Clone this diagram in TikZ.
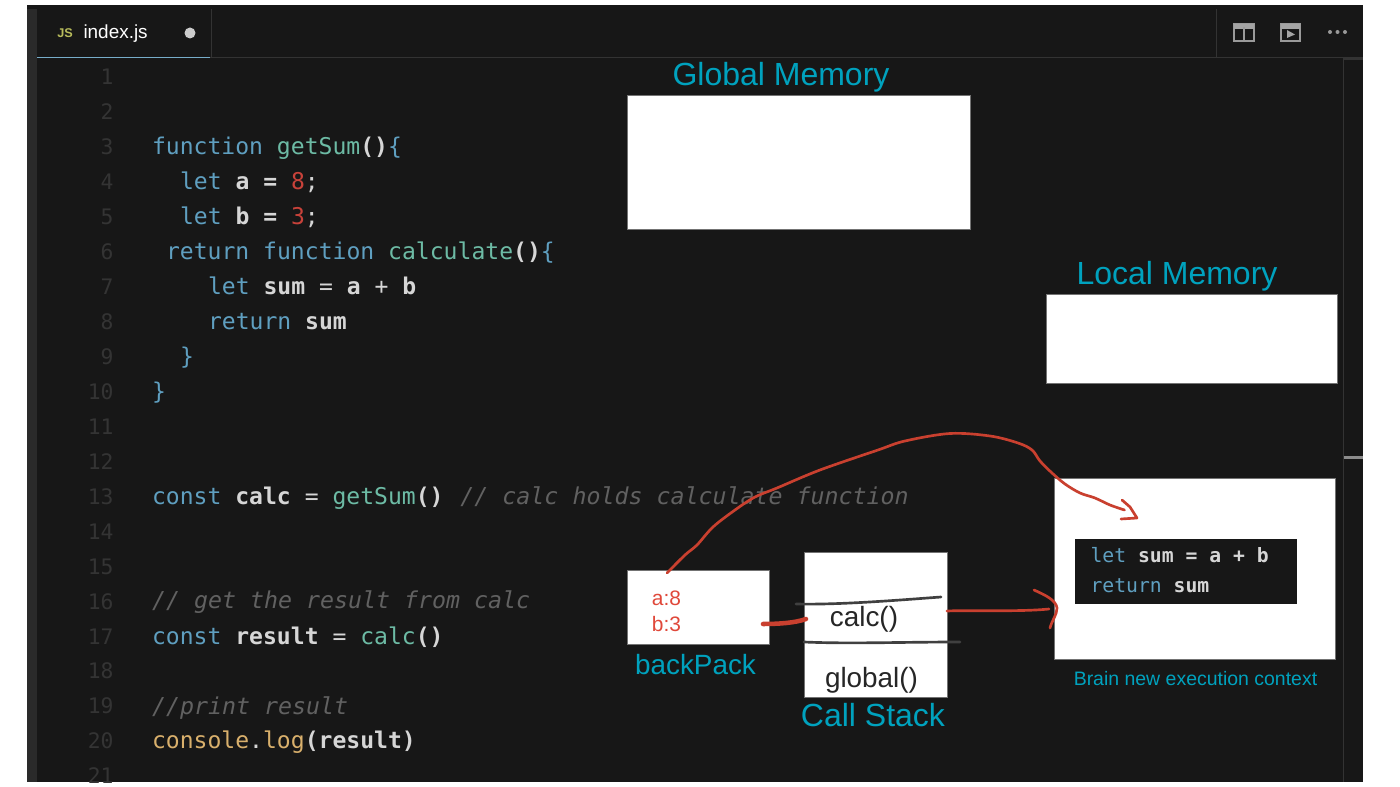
\documentclass[tikz,border=0pt]{standalone}
\usepackage{fontspec}
\setmainfont{Liberation Sans}
\setmonofont{DejaVu Sans Mono}

\definecolor{editorbg}{HTML}{171717}
\definecolor{stripbg}{HTML}{2A2A2A}
\definecolor{rulegray}{HTML}{333333}
\definecolor{numgray}{HTML}{343434}
\definecolor{kwblue}{HTML}{5F9FC0}
\definecolor{fngreen}{HTML}{6DBBA5}
\definecolor{varwhite}{HTML}{D6D6D6}
\definecolor{numred}{HTML}{C8423A}
\definecolor{cmtgray}{HTML}{616161}
\definecolor{logyellow}{HTML}{D9B06C}
\definecolor{titlecyan}{HTML}{00A2BE}
\definecolor{penred}{HTML}{C9402F}
\definecolor{textred}{HTML}{E0483A}
\definecolor{inkblack}{HTML}{262626}
\definecolor{iconcolor}{HTML}{9A9A9A}

\newcommand{\kw}[1]{\textcolor{kwblue}{#1}}
\newcommand{\fn}[1]{\textcolor{fngreen}{#1}}
\newcommand{\vr}[1]{\textcolor{varwhite}{\bfseries #1}}
\newcommand{\pl}[1]{\textcolor{varwhite}{#1}}
\newcommand{\nm}[1]{\textcolor{numred}{#1}}
\newcommand{\cm}[1]{\textcolor{cmtgray}{\fontsize{17.45pt}{20pt}\selectfont\itshape #1}}

\tikzset{every picture/.style={line width=0.75pt}}
\tikzset{
  boxsize/.style 2 args={minimum width=#1*0.75pt,minimum height=#2*0.75pt},
  whitebox/.style={draw=black!55,fill=white,inner sep=0pt,outer sep=0pt},
  codeline/.style={anchor=base west,inner sep=0pt,text=varwhite,font=\ttfamily\fontsize{17.3pt}{20pt}\selectfont},
  smallcode/.style={anchor=base west,inner sep=0pt,text=varwhite,font=\ttfamily\fontsize{14.8pt}{18pt}\selectfont},
  linenum/.style={anchor=base east,inner sep=0pt,text=numgray,font=\ttfamily\fontsize{16pt}{20pt}\selectfont},
  bigtitle/.style={inner sep=0pt,text=titlecyan,font=\fontsize{24pt}{28pt}\selectfont},
  midtitle/.style={inner sep=0pt,text=titlecyan,font=\fontsize{20.9pt}{24pt}\selectfont},
  stacktext/.style={inner sep=0pt,text=inkblack,font=\fontsize{20.9pt}{24pt}\selectfont},
  packtext/.style={inner sep=0pt,text=textred,font=\fontsize{15.7pt}{18pt}\selectfont},
  redpen/.style={draw=penred,line width=2pt,line cap=round,line join=round},
  fatpen/.style={draw=penred,line width=3.4pt,line cap=round},
  blackpen/.style={draw=black!75,line width=2pt,line cap=round},
  iconline/.style={draw=iconcolor,line width=1.5pt}
}

\begin{document}
\begin{tikzpicture}[x=0.75pt,y=0.75pt,yscale=-1,xscale=1]
	\useasboundingbox (0,0) rectangle (1400,787);
	\fill [white] (0,0) rectangle (1400,787);

	\begin{scope}
		\clip (27,5) rectangle (1363,782);
		\fill [editorbg] (27,5) rectangle (1363,782);
		\fill [stripbg] (27,9) rectangle (37,782);

		% tab bar
		\draw [rulegray] (37,57.5) -- (1363,57.5);
		\draw [kwblue!85!white] (37,57.5) -- (210,57.5);
		\draw [rulegray] (211,9) -- (211,57);
		\draw [rulegray] (1216,9) -- (1216,57);
		\draw [rulegray] (1343,59) -- (1343,782);
		\fill [rulegray] (1343,58) rectangle (1363,60);
		\fill [black!45] (1344,456.5) rectangle (1363,459.5);

		\node (jsIcon) [inner sep=0pt,text=logyellow!85!green,font=\bfseries\fontsize{9.5pt}{10pt}\selectfont] at (65,33.5) {JS};
		\node (tabName) [inner sep=0pt,anchor=west,text=white,font=\fontsize{14.2pt}{18pt}\selectfont] at (83,34) {index.js};
		\fill [black!20] (190,33) circle [radius=5.5];

		% split and preview icons
		\draw [iconline] (1233.5,24.5) rectangle (1253.5,41.5);
		\fill [iconcolor!90!white] (1233.5,24.5) rectangle (1253.5,29);
		\draw [iconline] (1243.5,27) -- (1243.5,41.5);
		\draw [iconline] (1280.5,24.5) rectangle (1300,41.5);
		\fill [iconcolor!90!white] (1280.5,24.5) rectangle (1300,29);
		\fill [iconcolor!90!white] (1287,30) -- (1295,34.5) -- (1287,38) -- cycle;
		\foreach \dotx in {1330,1337.5,1345}
			\fill [black!40] (\dotx,32) circle [radius=2];

		% line numbers
		\foreach \n in {1,...,21}
			\node (num\n) [linenum] at (114,{85+34.94*(\n-1)}) {\n};

		% code
		\node (line3) [codeline] at (151.5,154.5) {\kw{function} \fn{getSum}\vr{()}\kw{\{}};
		\node (line4) [codeline] at (179.5,189.5) {\kw{let} \vr{a} \vr{=} \nm{8}\pl{;}};
		\node (line5) [codeline] at (179.5,224.5) {\kw{let} \vr{b} \vr{=} \nm{3}\pl{;}};
		\node (line6) [codeline] at (165.5,259.5) {\kw{return} \kw{function} \fn{calculate}\vr{()}\kw{\{}};
		\node (line7) [codeline] at (207.5,294.5) {\kw{let} \vr{sum} \pl{=} \vr{a} \pl{+} \vr{b}};
		\node (line8) [codeline] at (207.5,329.5) {\kw{return} \vr{sum}};
		\node (line9) [codeline] at (179.5,364.5) {\kw{\}}};
		\node (line10) [codeline] at (151.5,399.5) {\kw{\}}};
		\node (line13) [codeline] at (151.5,504.5) {\kw{const} \vr{calc} \pl{=} \fn{getSum}\vr{()} \hspace{2.2pt}\cm{// calc holds calculate function}};
		\node (line16) [codeline] at (151.5,609) {\cm{// get the result from calc}};
		\node (line17) [codeline] at (151.5,644) {\kw{const} \vr{result} \pl{=} \fn{calc}\vr{()}};
		\node (line19) [codeline] at (151.5,714) {\cm{//print result}};
		\node (line20) [codeline] at (151.5,748.5) {\textcolor{logyellow}{console}\pl{.}\textcolor{logyellow}{log}\vr{(result)}};
	\end{scope}

	% memory boxes
	\node (globalBox) [whitebox,boxsize={343}{134}] at (798.5,163) {};
	\node (localBox) [whitebox,boxsize={291}{89}] at (1191.5,339.5) {};
	\node (brainBox) [whitebox,boxsize={281}{180}] at (1194.5,569) {};
	\node (packBox) [whitebox,boxsize={142}{74}] at (698,608) {};
	\node (stackBox) [whitebox,boxsize={143}{144}] at (875.5,625) {};
	\node (brainCode) [fill=editorbg,inner sep=0pt,boxsize={222}{65}] at (1186,571.5) {};

	\node (globalTitle) [bigtitle] at (781,77) {Global Memory};
	\node (localTitle) [bigtitle] at (1177,276) {Local Memory};
	\node (packTitle) [midtitle] at (695.5,665) {backPack};
	\node (stackTitle) [bigtitle] at (873,715) {Call Stack};
	\node (brainTitle) [inner sep=0pt,text=titlecyan,font=\fontsize{14.6pt}{18pt}\selectfont] at (1195.5,679) {Brain new execution context};

	\node (packA) [packtext] at (666.5,598) {a:8};
	\node (packB) [packtext] at (666.5,624) {b:3};
	\node (calcText) [stacktext] at (864,619) {calc()};
	\node (globalText) [stacktext] at (871.5,680) {global()};
	\node (brainLine1) [smallcode] at (1090,563) {\kw{let} \vr{sum = a + b}};
	\node (brainLine2) [smallcode] at (1090,593) {\kw{return} \vr{sum}};

	% stack frame lines
	\draw [blackpen] (796,604) .. controls (840,605) and (900,600) .. (941,597);
	\draw [blackpen] (804,642) .. controls (850,644) and (900,642) .. (960,642);

	% hand drawn arrows
	\coordinate (closureStart) at ([shift={(-31,2)}]packBox.north);
	\coordinate (closureEnd) at ([shift={(-70,31)}]brainBox.north);
	\draw [redpen] plot [smooth,tension=0.55] coordinates {(closureStart) (685,555) (697,545) (713,527) (735,510) (755,497) (777,488) (820,470) (878,450) (905,441) (950,433.5) (990,436) (1018,443) (1032,450) (1040,461) (1052,473) (1065,484) (1080,493) (1095,498) (1110,505) (closureEnd)};
	\draw [redpen] (1122,500) -- (1130,507) -- (1137,518) -- (1121,519);
	\draw [fatpen] ([shift={(-6,16)}]packBox.east) .. controls (778,624) and (795,623) .. ([shift={(2,-6)}]stackBox.west);
	\draw [redpen] ([shift={(0,-14)}]stackBox.east) .. controls (970,610) and (1020,612) .. (1049,609);
	\draw [redpen] (1034,590) .. controls (1045,595) and (1056,600) .. (1057,608) .. controls (1057,615) and (1052,620) .. (1050,628);
\end{tikzpicture}
\end{document}
